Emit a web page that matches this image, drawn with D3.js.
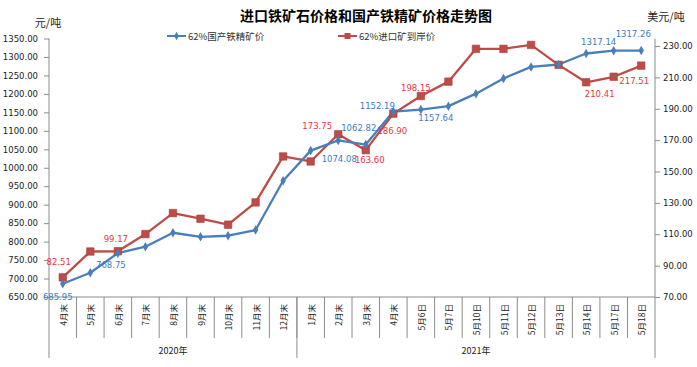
<!DOCTYPE html>
<html>
<head>
<meta charset="utf-8">
<script src="https://cdn.jsdelivr.net/npm/d3@7"></script>
<style>
  html, body { margin: 0; padding: 0; background: #fff; }
  svg { display: block; }
</style>
</head>
<body>
<svg id="chart" width="697" height="367"></svg>
<script>
// ---------------- data ----------------
const categories = ["4月末","5月末","6月末","7月末","8月末","9月末","10月末","11月末","12月末",
  "1月末","2月末","3月末","4月末","5月6日","5月7日","5月10日","5月11日","5月12日","5月13日","5月14日","5月17日","5月18日"];
const groups = [{name: "2020年", count: 9}, {name: "2021年", count: 13}];
const domesticPrice = [685.95, 715.7, 768.75, 786.1, 824, 813, 815.9, 831.3, 964.7,
  1046.4, 1074.08, 1062.82, 1152.19, 1157.64, 1166.8, 1200.6, 1241.7, 1273.1, 1279.6, 1309.4, 1317.14, 1317.26];
const importPrice = [82.51, 99.0, 99.17, 110.1, 123.5, 119.9, 116.1, 130.3, 159.6,
  156.4, 173.75, 163.60, 186.90, 198.15, 207.3, 228.2, 228.2, 230.7, 218.0, 206.9, 210.41, 217.51];
const leftTicks = [650,700,750,800,850,900,950,1000,1050,1100,1150,1200,1250,1300,1350];
const rightTicks = [70,90,110,130,150,170,190,210,230];
const seriesNames = ["62%国产铁精矿价", "62%进口矿到岸价"];
const title = "进口铁矿石价格和国产铁精矿价格走势图";
// which points carry a value label
const domesticLabelIdx = [0, 2, 10, 11, 12, 13, 20, 21];
const importLabelIdx = [0, 2, 10, 11, 12, 13, 20, 21];

// ---------------- layout / style ----------------
const blueLine = "#4a7ebb", redLine = "#be4b48";
const blueText = "#3a7cc4", redText = "#e8363c";
const numFont = "'DejaVu Sans', 'Noto Sans CJK SC', sans-serif";
const cjkFont = "'Noto Sans CJK SC', 'DejaVu Sans', sans-serif";
const plot = {left: 49, right: 655, top: 38.5, bottom: 297};
// label offsets (dx, dy) relative to their points
const domesticLabelOff = {0:[-5,13],2:[-7,12],10:[1,19],11:[-7,-17],12:[-16,-6],13:[15,8],20:[-15,-9],21:[-8,-17]};
const importLabelOff = {0:[-4,-15],2:[-2,-12],10:[-21,-8],11:[4,10],12:[-1,17],13:[-5,-8],20:[-14,17],21:[-7,15]};

const svg = d3.select("#chart");

const idx = d3.range(categories.length);
const x = d3.scaleBand().domain(idx).range([plot.left, plot.right]).paddingInner(0).paddingOuter(0);
const yL = d3.scaleLinear().domain([650, 1350]).range([plot.bottom, plot.top]);
const yR = d3.scaleLinear().domain([70, 234.8]).range([plot.bottom, plot.top]);
const cx = i => x(i) + x.bandwidth() / 2;

// title
svg.append("text").attr("x", 366).attr("y", 15).attr("text-anchor", "middle")
  .attr("dominant-baseline", "central")
  .style("font-family", cjkFont).style("font-size", "14px").style("font-weight", "bold")
  .attr("fill", "#000").text(title);

// unit labels
svg.append("text").attr("x", 48).attr("y", 22).attr("text-anchor", "middle")
  .attr("dominant-baseline", "central")
  .style("font-family", cjkFont).style("font-size", "11px").attr("fill", "#222").text("元/吨");
svg.append("text").attr("x", 666).attr("y", 16).attr("text-anchor", "middle")
  .attr("dominant-baseline", "central")
  .style("font-family", cjkFont).style("font-size", "11px").attr("fill", "#222").text("美元/吨");

// axes
const axL = d3.axisLeft(yL).tickValues(leftTicks).tickFormat(d3.format(".2f")).tickSize(5).tickPadding(6);
const gL = svg.append("g").attr("transform", `translate(${plot.left},0)`).call(axL);
const axR = d3.axisRight(yR).tickValues(rightTicks).tickFormat(d3.format(".2f")).tickSize(5).tickPadding(3);
const gR = svg.append("g").attr("transform", `translate(${plot.right},0)`).call(axR);
[gL, gR].forEach(g => {
  g.select(".domain").remove();
  g.selectAll(".tick line").attr("stroke", "#8c8c8c");
  g.selectAll(".tick text").style("font-family", numFont).style("font-size", "8.5px").attr("fill", "#222");
});
const axisColor = "#8c8c8c";
svg.append("line").attr("x1", plot.left).attr("x2", plot.left).attr("y1", plot.top).attr("y2", 358).attr("stroke", axisColor);
svg.append("line").attr("x1", plot.right).attr("x2", plot.right).attr("y1", plot.top).attr("y2", 358).attr("stroke", axisColor);
svg.append("line").attr("x1", plot.left).attr("x2", plot.right).attr("y1", plot.bottom).attr("y2", plot.bottom).attr("stroke", axisColor);

// category separators
idx.forEach(i => {
  if (i === 0) return;
  svg.append("line").attr("x1", x(i)).attr("x2", x(i)).attr("y1", plot.bottom).attr("y2", 338).attr("stroke", axisColor);
});
// group separators & labels
let start = 0;
groups.forEach((g, gi) => {
  const x0 = x(start);
  const x1 = x(start + g.count - 1) + x.bandwidth();
  if (gi > 0) {
    svg.append("line").attr("x1", x0).attr("x2", x0).attr("y1", plot.bottom).attr("y2", 358).attr("stroke", axisColor);
  }
  svg.append("text").attr("x", (x0 + x1) / 2).attr("y", 350).attr("text-anchor", "middle")
    .attr("dominant-baseline", "central")
    .style("font-family", cjkFont).style("font-size", "9px").attr("fill", "#222").text(g.name);
  start += g.count;
});
// category labels rotated
categories.forEach((c, i) => {
  svg.append("text")
    .attr("transform", `translate(${cx(i)},${plot.bottom + 7}) rotate(-90)`)
    .attr("text-anchor", "end").attr("dominant-baseline", "central")
    .style("font-family", cjkFont).style("font-size", "8.5px").attr("fill", "#222").text(c);
});

// lines
const lineL = d3.line().x((d, i) => cx(i)).y(d => yL(d));
const lineR = d3.line().x((d, i) => cx(i)).y(d => yR(d));
svg.append("path").datum(importPrice).attr("d", lineR).attr("fill", "none")
  .attr("stroke", redLine).attr("stroke-width", 2.3).attr("stroke-linejoin", "round");
svg.append("path").datum(domesticPrice).attr("d", lineL).attr("fill", "none")
  .attr("stroke", blueLine).attr("stroke-width", 2.3).attr("stroke-linejoin", "round");

// markers
const sq = d3.symbol().type(d3.symbolSquare).size(56);
const dia = d3.symbol().type(d3.symbolDiamond).size(26);
svg.append("g").selectAll("path").data(importPrice).join("path")
  .attr("d", sq).attr("transform", (d, i) => `translate(${cx(i)},${yR(d)})`)
  .attr("fill", redLine).attr("stroke", "#a8403d").attr("stroke-width", 0.6);
svg.append("g").selectAll("path").data(domesticPrice).join("path")
  .attr("d", dia).attr("transform", (d, i) => `translate(${cx(i)},${yL(d)})`)
  .attr("fill", blueLine);

// data labels
domesticLabelIdx.forEach(i => {
  const o = domesticLabelOff[i];
  svg.append("text").attr("x", cx(i) + o[0]).attr("y", yL(domesticPrice[i]) + o[1])
    .attr("text-anchor", "middle").attr("dominant-baseline", "central")
    .style("font-family", numFont).style("font-size", "8.5px").attr("fill", blueText)
    .text(d3.format(".2f")(domesticPrice[i]));
});
importLabelIdx.forEach(i => {
  const o = importLabelOff[i];
  svg.append("text").attr("x", cx(i) + o[0]).attr("y", yR(importPrice[i]) + o[1])
    .attr("text-anchor", "middle").attr("dominant-baseline", "central")
    .style("font-family", numFont).style("font-size", "8.5px").attr("fill", redText)
    .text(d3.format(".2f")(importPrice[i]));
});

// legend
const legend = [
  {name: seriesNames[0], color: blueLine, type: d3.symbolDiamond, size: 20, x: 167},
  {name: seriesNames[1], color: redLine, type: d3.symbolSquare, size: 36, x: 338}
];
legend.forEach(l => {
  const g = svg.append("g").attr("transform", `translate(${l.x},36)`);
  g.append("line").attr("x1", 0).attr("x2", 19).attr("y1", 0).attr("y2", 0).attr("stroke", l.color).attr("stroke-width", 2);
  g.append("path").attr("d", d3.symbol().type(l.type).size(l.size)()).attr("transform", "translate(9.5,0)").attr("fill", l.color);
  g.append("text").attr("x", 21).attr("y", 0).attr("dominant-baseline", "central")
    .style("font-family", cjkFont).style("font-size", "9.5px").attr("fill", "#333").text(l.name);
});
</script>
</body>
</html>
